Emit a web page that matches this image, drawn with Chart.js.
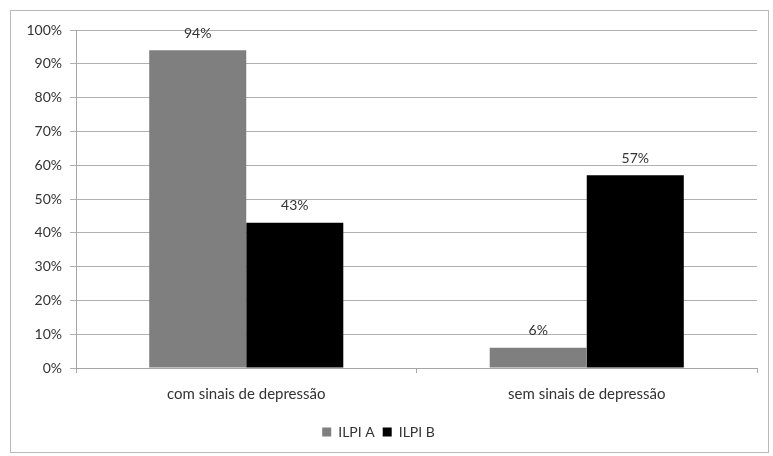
<!DOCTYPE html>
<html>
<head>
<meta charset="utf-8">
<script src="https://cdn.jsdelivr.net/npm/chart.js"></script>
<style>
  body { margin: 0; background: #fff; }
  #wrap { position: relative; width: 773px; height: 456px; }
  #frame { position: absolute; left: 10px; top: 10px; width: 757px; height: 441px; border: 1px solid #b8b8b8; }
  canvas { position: absolute; left: 0; top: 0; }
</style>
</head>
<body>
<div id="wrap">
  <div id="frame"></div>
  <canvas id="chart" width="773" height="456"></canvas>
</div>
<script>
// categories and values
const categories = ["com sinais de depressão", "sem sinais de depressão"];
const ilpiA = [94, 6];
const ilpiB = [43, 57];
const seriesNames = ["ILPI A", "ILPI B"];

// draws the percentage above every bar
const barLabels = {
  id: "barLabels",
  afterDatasetsDraw(chart) {
    const c = chart.ctx;
    c.save();
    c.font = "14px Lato, sans-serif";
    c.fillStyle = "#333333";
    c.textAlign = "center";
    c.textBaseline = "middle";
    chart.data.datasets.forEach((ds, i) => {
      chart.getDatasetMeta(i).data.forEach((bar, j) => {
        c.fillText(ds.data[j] + "%", bar.x, bar.y - 17);
      });
    });
    c.restore();
  }
};

Chart.defaults.font.family = "Lato, sans-serif";
Chart.defaults.font.size = 14;
Chart.defaults.color = "#333333";

const ctx = document.getElementById("chart").getContext("2d");
new Chart(ctx, {
  type: "bar",
  data: {
    labels: categories,
    datasets: [
      { label: seriesNames[0], data: ilpiA, backgroundColor: "#7f7f7f" },
      { label: seriesNames[1], data: ilpiB, backgroundColor: "#000000" }
    ]
  },
  options: {
    responsive: false,
    animation: false,
    layout: { padding: { top: 30, right: 16, bottom: 7, left: 0 } },
    datasets: { bar: { categoryPercentage: 0.57, barPercentage: 1.0 } },
    scales: {
      x: {
        grid: { display: true, drawOnChartArea: false, offset: true, color: "#a6a6a6", tickLength: 5 },
        border: { color: "#a6a6a6" },
        ticks: { padding: 12, color: "#333333", font: { size: 15 } },
        afterFit: (s) => { s.height = 49; }
      },
      y: {
        min: 0,
        max: 100,
        ticks: { stepSize: 10, callback: (v) => v + "%", padding: 8, color: "#333333" },
        grid: { color: "#b0b0b0", tickLength: 6 },
        border: { color: "#a6a6a6" },
        afterFit: (s) => { s.width = 76; }
      }
    },
    plugins: {
      legend: {
        position: "bottom",
        labels: { boxWidth: 9, boxHeight: 9, padding: 8, color: "#333333", font: { size: 14 } }
      },
      tooltip: { enabled: false }
    }
  },
  plugins: [barLabels]
});
</script>
</body>
</html>
